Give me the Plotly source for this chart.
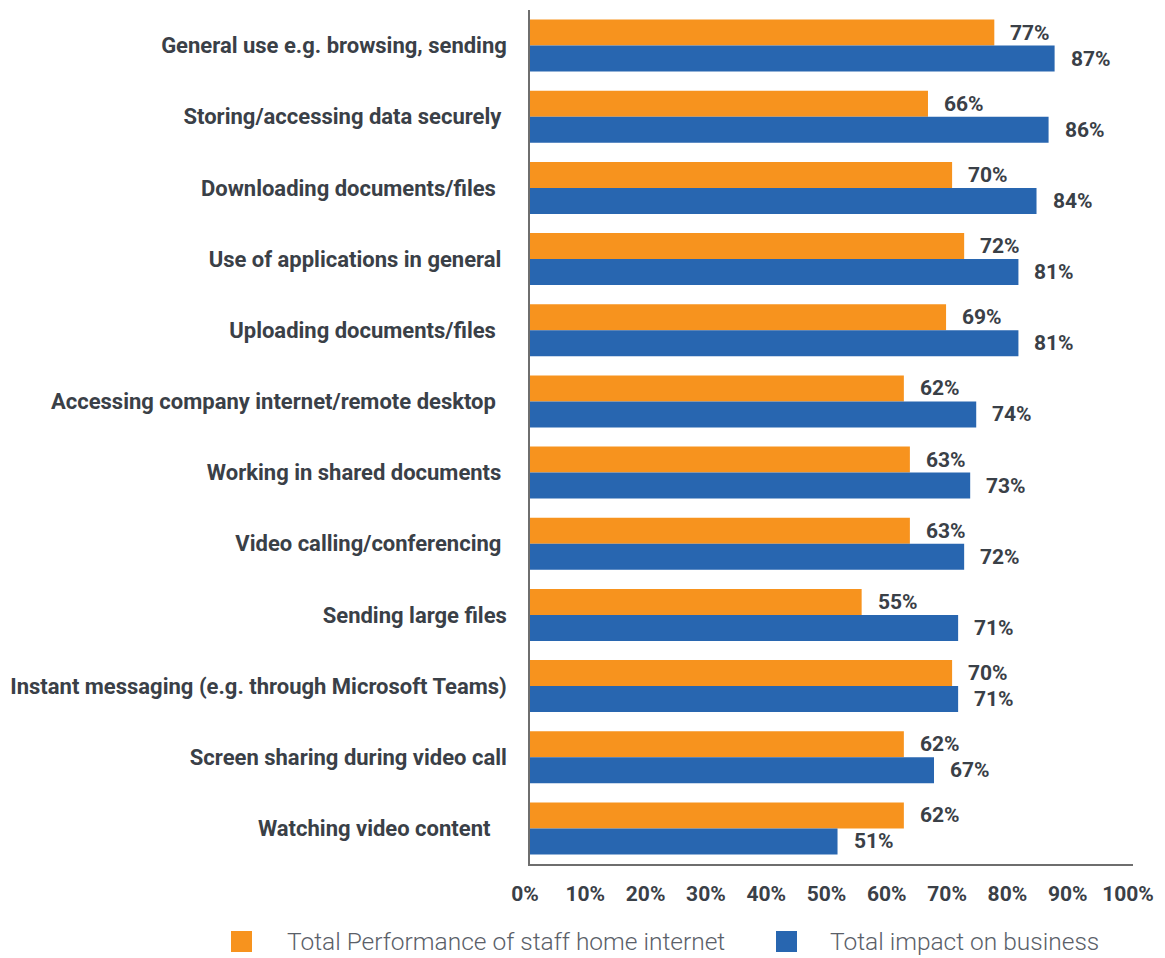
import plotly.graph_objects as go

categories = [
    "General use e.g. browsing, sending",
    "Storing/accessing data securely ",
    "Downloading documents/files  ",
    "Use of applications in general ",
    "Uploading documents/files  ",
    "Accessing company internet/remote desktop  ",
    "Working in shared documents ",
    "Video calling/conferencing ",
    "Sending large files",
    "Instant messaging (e.g. through Microsoft Teams)",
    "Screen sharing during video call",
    "Watching video content   ",
]
performance = [77, 66, 70, 72, 69, 62, 63, 63, 55, 70, 62, 62]
impact = [87, 86, 84, 81, 81, 74, 73, 72, 71, 71, 67, 51]
series_names = ["Total Performance of staff home internet", "Total impact on business"]
tick_vals = [0, 10, 20, 30, 40, 50, 60, 70, 80, 90, 100]
tick_text = [f"{v}%" for v in tick_vals]

ORANGE = "#F7931E"
BLUE = "#2866B0"
TEXT = "#3A4047"
LEGEND_TEXT = "#5A6068"
AXIS = "#6E6E6E"
FONT = "Roboto"

# the page body has an 8px margin, so the figure is drawn 8px smaller
OFF = 8
W, H = 1165 - OFF, 958 - OFF
L, R, T, B = 530 - OFF, 1133 - OFF, 10 - OFF, 864 - OFF


def px_x(p):
    return (p - OFF - L) / (R - L)


def px_y(p):
    return (B - (p - OFF)) / (B - T)


fig = go.Figure()
for name, vals, col in [(series_names[0], performance, ORANGE), (series_names[1], impact, BLUE)]:
    fig.add_trace(go.Bar(
        y=categories, x=vals, orientation="h", name=name,
        marker=dict(color=col, line=dict(width=0)),
        showlegend=False, hoverinfo="skip",
    ))

annotations = []
for ci, cat in enumerate(categories):
    for vals, dy in [(performance, 13), (impact, -13)]:
        annotations.append(dict(
            x=vals[ci], y=cat, xref="x", yref="y", text=f"<b>{vals[ci]}%</b>",
            showarrow=False, xanchor="left", yanchor="middle", xshift=14, yshift=dy,
            font=dict(family=FONT, size=21, color=TEXT),
        ))

# custom legend (squares + labels), positions in screenshot pixels
shapes = []
legend_items = [(series_names[0], ORANGE, 231, 285), (series_names[1], BLUE, 776, 828)]
for name, col, sq_left, txt_left in legend_items:
    shapes.append(dict(
        type="rect", xref="paper", yref="paper",
        x0=px_x(sq_left), x1=px_x(sq_left + 21), y0=px_y(952), y1=px_y(931),
        fillcolor=col, line=dict(width=0),
    ))
    annotations.append(dict(
        x=px_x(txt_left), y=px_y(941.5), xref="paper", yref="paper", text=name,
        showarrow=False, xanchor="left", yanchor="middle",
        font=dict(family=FONT, size=24.5, color=LEGEND_TEXT, weight=300),
    ))

fig.update_layout(
    width=W, height=H,
    margin=dict(l=L, r=W - R, t=T, b=H - B, autoexpand=False),
    paper_bgcolor="white", plot_bgcolor="white",
    barmode="group", bargap=0.27, bargroupgap=0,
    font=dict(family=FONT, color=TEXT),
    annotations=annotations,
    shapes=shapes,
    showlegend=False,
    xaxis=dict(
        range=[0, 100], tickvals=tick_vals, ticktext=[f"<b>{t}</b>" for t in tick_text],
        showgrid=False, zeroline=False, showline=True, linecolor=AXIS, linewidth=1.5,
        ticks="", ticklabelstandoff=10, ticklabelshift=-5,
        tickfont=dict(family=FONT, size=21, color=TEXT),
        automargin=False, fixedrange=True,
    ),
    yaxis=dict(
        autorange="reversed", showgrid=False, zeroline=False, showline=True,
        linecolor=AXIS, linewidth=1.5, ticks="", ticklabelstandoff=17,
        tickfont=dict(family=FONT, size=22, color=TEXT, weight="bold"),
        tickmode="array", tickvals=categories, ticktext=categories,
        automargin=False,
    ),
)

fig.write_html("out.html")
